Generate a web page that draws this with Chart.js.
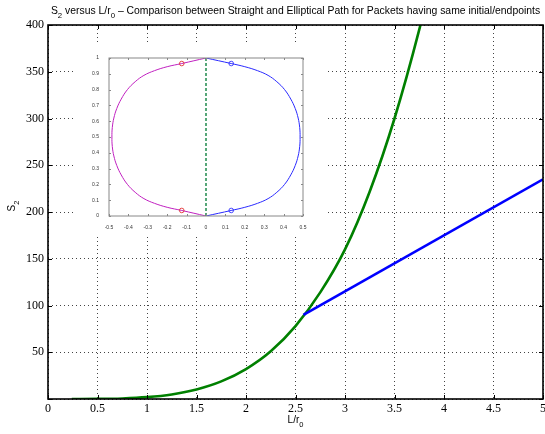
<!DOCTYPE html>
<html>
<head>
<meta charset="utf-8">
<script src="https://cdn.jsdelivr.net/npm/chart.js@4.4.0/dist/chart.umd.min.js"></script>
<style>
  html, body { margin: 0; padding: 0; background: #fff; }
  #wrap { position: relative; width: 545px; height: 434px; overflow: hidden; }
  #mainChart { position: absolute; left: 0; top: 0; }
  #insetBox { position: absolute; left: 76px; top: 42px; width: 250px; height: 193px; background: #fff; }
</style>
</head>
<body>
<div id="wrap">
  <canvas id="mainChart" width="545" height="434"></canvas>
  <div id="insetBox"><canvas id="insetChart" width="250" height="193"></canvas></div>
</div>
<script>
// elliptical path: S2 against L/r0
const curveL = [0.24, 0.5, 0.75, 1, 1.25, 1.5, 1.75, 2, 2.25, 2.5, 2.75, 3, 3.25, 3.5, 3.75, 3.85];
const curveS = [0, 0.1, 0.6, 2, 4.9, 10.2, 18.8, 32, 51, 78, 114, 160, 222, 300, 395, 439];

// straight path
const straightL = [2.58, 5];
const straightS = [90, 235];

// tick values
const xTicks = [0, 0.5, 1, 1.5, 2, 2.5, 3, 3.5, 4, 4.5, 5];
const yTicks = [0, 50, 100, 150, 200, 250, 300, 350, 400];

// inset: packet paths in the plane
const rightX = [0, 0.13, 0.2, 0.265, 0.32, 0.365, 0.405, 0.437, 0.46, 0.475, 0.483, 0.485,
    0.483, 0.475, 0.46, 0.437, 0.405, 0.365, 0.32, 0.265, 0.2, 0.13, 0];
const rightY = [1, 0.965, 0.945, 0.92, 0.89, 0.85, 0.8, 0.74, 0.68, 0.62, 0.56, 0.5,
    0.44, 0.38, 0.32, 0.26, 0.2, 0.15, 0.11, 0.08, 0.055, 0.035, 0];
const leftX = [0, -0.125, -0.2, -0.265, -0.32, -0.365, -0.405, -0.437, -0.46, -0.475, -0.483, -0.485,
    -0.483, -0.475, -0.46, -0.437, -0.405, -0.365, -0.32, -0.265, -0.2, -0.125, 0];
const leftY = [1, 0.965, 0.945, 0.92, 0.89, 0.85, 0.8, 0.74, 0.68, 0.62, 0.56, 0.5,
    0.44, 0.38, 0.32, 0.26, 0.2, 0.15, 0.11, 0.08, 0.055, 0.035, 0];
const chordX = [0, 0];
const chordY = [0, 1];
const rightMarkX = [0.13, 0.13];
const rightMarkY = [0.965, 0.035];
const leftMarkX = [-0.125, -0.125];
const leftMarkY = [0.965, 0.035];

function pts(xs, ys) {
    return xs.map((v, i) => ({ x: v, y: ys[i] }));
}

// axes box with inward ticks on all four sides (matlab look)
const boxTicks = {
    id: 'boxTicks',
    afterDraw(chart, args, opts) {
        const { ctx, chartArea: a, scales: { x, y } } = chart;
        ctx.save();
        ctx.strokeStyle = opts.color;
        ctx.lineWidth = 1;
        ctx.beginPath();
        x.ticks.forEach(t => {
            const px = Math.round(x.getPixelForValue(t.value)) + 0.5;
            ctx.moveTo(px, a.bottom); ctx.lineTo(px, a.bottom - opts.len);
            ctx.moveTo(px, a.top); ctx.lineTo(px, a.top + opts.len);
        });
        y.ticks.forEach(t => {
            const py = Math.round(y.getPixelForValue(t.value)) + 0.5;
            ctx.moveTo(a.left, py); ctx.lineTo(a.left + opts.len, py);
            ctx.moveTo(a.right, py); ctx.lineTo(a.right - opts.len, py);
        });
        ctx.stroke();
        ctx.lineWidth = opts.width;
        ctx.strokeRect(a.left, a.top, a.right - a.left, a.bottom - a.top);
        ctx.restore();
    }
};

// text with subscripts: parts = [[text, isSub], ...]
function drawSub(ctx, parts, x, y, size) {
    let w = 0;
    parts.forEach(p => {
        ctx.font = (p[1] ? size * 0.75 : size) + 'px "Liberation Sans", Arial, sans-serif';
        w += ctx.measureText(p[0]).width;
    });
    let cx = x - w / 2;
    parts.forEach(p => {
        ctx.font = (p[1] ? size * 0.75 : size) + 'px "Liberation Sans", Arial, sans-serif';
        ctx.fillText(p[0], cx, p[1] ? y + size * 0.35 : y);
        cx += ctx.measureText(p[0]).width;
    });
}

const labels = {
    id: 'labels',
    afterDraw(chart) {
        const { ctx, chartArea: a } = chart;
        const mid = (a.left + a.right) / 2;
        ctx.save();
        ctx.fillStyle = '#000';
        ctx.textBaseline = 'alphabetic';
        ctx.textAlign = 'left';
        drawSub(ctx, [['S', 0], ['2', 1], [' versus L/r', 0], ['0', 1],
            [' \u2013 Comparison between Straight and Elliptical Path for Packets having same initial/endpoints', 0]],
            mid, 14, 10.4);
        drawSub(ctx, [['L/r', 0], ['0', 1]], mid, 423, 10);
        ctx.translate(15, 206);
        ctx.rotate(-Math.PI / 2);
        drawSub(ctx, [['S', 0], ['2', 1]], 0, 0, 10);
        ctx.restore();
    }
};

new Chart(document.getElementById('mainChart'), {
    type: 'line',
    data: {
        datasets: [
            {
                data: pts(straightL, straightS),
                borderColor: '#0000ff',
                borderWidth: 2.6,
                pointRadius: 0,
                order: 0,
            },
            {
                data: pts(curveL, curveS),
                borderColor: '#008000',
                borderWidth: 2.6,
                pointRadius: 0,
                cubicInterpolationMode: 'monotone',
                order: 1,
            },
        ],
    },
    options: {
        responsive: false,
        animation: false,
        layout: { padding: { left: 0, right: 2, top: 25, bottom: 0 } },
        plugins: {
            legend: { display: false },
            tooltip: { enabled: false },
            boxTicks: { color: '#000', len: 4, width: 1.6 },
        },
        scales: {
            x: {
                type: 'linear',
                min: 0,
                max: 5,
                afterBuildTicks: s => { s.ticks = xTicks.map(v => ({ value: v })); },
                afterFit: s => { s.height = 35; s.paddingLeft = 0; s.paddingRight = 0; },
                grid: { color: '#444', lineWidth: 1, drawTicks: false },
                border: { display: false, dash: [1, 3] },
                ticks: {
                    padding: 3,
                    color: '#000',
                    maxRotation: 0,
                    autoSkip: false,
                    font: { family: '"Liberation Serif", "Times New Roman", serif', size: 12 },
                    callback: v => String(v),
                },
            },
            y: {
                type: 'linear',
                min: 0,
                max: 400,
                afterBuildTicks: s => { s.ticks = yTicks.map(v => ({ value: v })); },
                afterFit: s => { s.width = 48; s.paddingTop = 0; s.paddingBottom = 0; },
                grid: { color: '#444', lineWidth: 1, drawTicks: false },
                border: { display: false, dash: [1, 3] },
                ticks: {
                    padding: 4,
                    color: '#000',
                    autoSkip: false,
                    font: { family: '"Liberation Serif", "Times New Roman", serif', size: 12 },
                    callback: v => (v === 0 ? '' : String(v)),
                },
            },
        },
    },
    plugins: [boxTicks, labels],
});

const insetFont = { family: '"Liberation Sans", Arial, sans-serif', size: 5 };

new Chart(document.getElementById('insetChart'), {
    type: 'line',
    data: {
        datasets: [
            {
                data: pts(chordX, chordY),
                borderColor: '#1f8a4c',
                borderWidth: 1.5,
                borderDash: [3, 2],
                pointRadius: 0,
                order: 0,
            },
            {
                data: pts(rightMarkX, rightMarkY),
                showLine: false,
                pointRadius: 2.3,
                pointBorderWidth: 0.8,
                pointBorderColor: '#2020ff',
                pointBackgroundColor: 'rgba(0,0,0,0)',
                order: 1,
            },
            {
                data: pts(leftMarkX, leftMarkY),
                showLine: false,
                pointRadius: 2.3,
                pointBorderWidth: 0.8,
                pointBorderColor: '#e02020',
                pointBackgroundColor: 'rgba(0,0,0,0)',
                order: 2,
            },
            {
                data: pts(rightX, rightY),
                borderColor: '#2a2aff',
                borderWidth: 1,
                tension: 0.4,
                pointRadius: 0,
                order: 3,
            },
            {
                data: pts(leftX, leftY),
                borderColor: '#c020c0',
                borderWidth: 1,
                tension: 0.4,
                pointRadius: 0,
                order: 4,
            },
        ],
    },
    options: {
        responsive: false,
        animation: false,
        layout: { padding: { left: 0, right: 23, top: 16, bottom: 0 } },
        plugins: {
            legend: { display: false },
            tooltip: { enabled: false },
            boxTicks: { color: '#888', len: 2, width: 1 },
        },
        scales: {
            x: {
                type: 'linear',
                min: -0.5,
                max: 0.5,
                afterFit: s => { s.height = 19; s.paddingLeft = 0; s.paddingRight = 0; },
                grid: { display: false },
                border: { display: false },
                ticks: {
                    stepSize: 0.1,
                    padding: 1,
                    color: '#333',
                    maxRotation: 0,
                    autoSkip: false,
                    font: insetFont,
                    callback: v => String(Math.round(v * 10) / 10),
                },
            },
            y: {
                type: 'linear',
                min: 0,
                max: 1,
                afterFit: s => { s.width = 33; s.paddingTop = 0; s.paddingBottom = 0; },
                grid: { display: false },
                border: { display: false },
                ticks: {
                    stepSize: 0.1,
                    padding: 2,
                    color: '#333',
                    autoSkip: false,
                    font: insetFont,
                    callback: v => String(Math.round(v * 10) / 10),
                },
            },
        },
    },
    plugins: [boxTicks],
});
</script>
</body>
</html>
